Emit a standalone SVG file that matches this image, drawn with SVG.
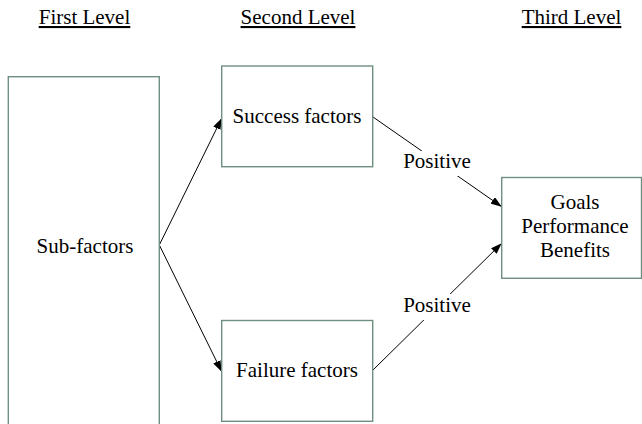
<svg xmlns="http://www.w3.org/2000/svg" width="642" height="424" viewBox="0 0 642 424">
<style>
text{font-size:21px;fill:#000;text-anchor:middle}
.hdr{text-decoration:underline}
.box{fill:#fff;stroke:#6f8f80;stroke-width:1.4}
.ln{stroke:#000;stroke-width:1;fill:none}
.lblbg{fill:#fff}
</style>
<defs>
<marker id="ah" markerUnits="userSpaceOnUse" markerWidth="12" markerHeight="8" refX="11" refY="4" orient="auto">
<path d="M0,0 L11,4 L0,8 z" fill="#000"/>
</marker>
</defs>
<rect width="642" height="424" fill="#fff"/>
<g font-family="'Liberation Serif', 'DejaVu Serif', 'Times New Roman', serif">
<g id="headers">
<text class="hdr" x="84.5" y="24">First Level</text>
<text class="hdr" x="298" y="24">Second Level</text>
<text class="hdr" x="571.5" y="24">Third Level</text>
</g>
<g id="connectors">
<line class="ln" x1="159.3" y1="245" x2="221.7" y2="118.3" marker-end="url(#ah)"/>
<line class="ln" x1="159.3" y1="245" x2="221.7" y2="371.7" marker-end="url(#ah)"/>
<line class="ln" x1="373" y1="117" x2="501.7" y2="206.7" marker-end="url(#ah)"/>
<line class="ln" x1="373" y1="370" x2="501.7" y2="243.3" marker-end="url(#ah)"/>
<rect class="lblbg" x="401" y="151" width="72" height="25"/>
<text x="437" y="168">Positive</text>
<rect class="lblbg" x="401" y="294" width="72" height="26"/>
<text x="437" y="312">Positive</text>
</g>
<g id="node-subfactors">
<rect class="box" x="8.3" y="76.7" width="151" height="360"/>
<text x="85" y="252.5">Sub-factors</text>
</g>
<g id="node-success">
<rect class="box" x="221.7" y="66" width="151" height="100.7"/>
<text x="297" y="123">Success factors</text>
</g>
<g id="node-failure">
<rect class="box" x="221.7" y="320.5" width="151" height="100.8"/>
<text x="297" y="377">Failure factors</text>
</g>
<g id="node-goals">
<rect class="box" x="501.7" y="177.5" width="139.8" height="100.8"/>
<text x="575" y="209">Goals</text>
<text x="575" y="233">Performance</text>
<text x="575" y="257">Benefits</text>
</g>
</g>
</svg>
